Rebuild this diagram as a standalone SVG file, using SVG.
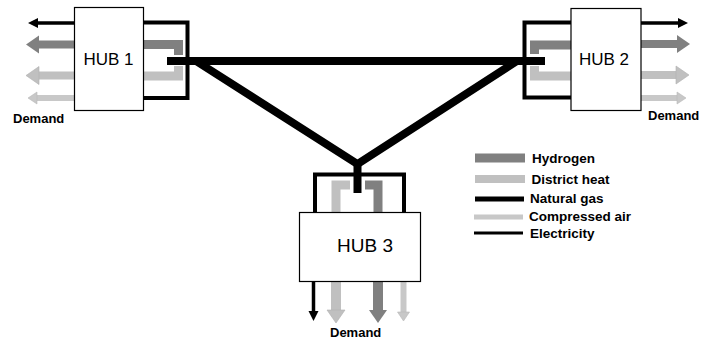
<svg xmlns="http://www.w3.org/2000/svg" width="701" height="347" viewBox="0 0 701 347">
<style>
  .box{fill:#fff;stroke:#000;stroke-width:1.2}
  .hub{font-family:"Liberation Sans",Arial,sans-serif;font-size:17px;fill:#000;text-anchor:middle}
  .lbl{font-family:"Liberation Sans",Arial,sans-serif;font-size:13.5px;font-weight:bold;fill:#000}
  .dem{font-family:"Liberation Sans",Arial,sans-serif;font-size:13px;font-weight:bold;fill:#000}
  .el{fill:none;stroke:#000;stroke-width:3.5}
  .frame{fill:none;stroke:#000;stroke-width:4;stroke-linejoin:miter}
  .h2{fill:none;stroke:#808080;stroke-width:9;stroke-linejoin:miter}
  .dh{fill:none;stroke:#c0c0c0;stroke-width:9;stroke-linejoin:miter}
  .ca{fill:none;stroke:#c8c8c8;stroke-width:6}
  .ng{fill:none;stroke:#000;stroke-width:8;stroke-linejoin:miter}
</style>
<defs>
  <marker id="m-el" markerUnits="userSpaceOnUse" orient="auto" overflow="visible" markerWidth="10" markerHeight="10" refX="0" refY="0"><path d="M0,-5 L10,0 L0,5 Z" fill="#000"/></marker>
  <marker id="m-h2" markerUnits="userSpaceOnUse" orient="auto" overflow="visible" markerWidth="14" markerHeight="18" refX="0" refY="0"><path d="M0,-9 L13,0 L0,9 Z" fill="#808080"/></marker>
  <marker id="m-dh" markerUnits="userSpaceOnUse" orient="auto" overflow="visible" markerWidth="14" markerHeight="18" refX="0" refY="0"><path d="M0,-9 L13,0 L0,9 Z" fill="#c0c0c0" stroke="#b0b0b0" stroke-width="0.6"/></marker>
  <marker id="m-ca" markerUnits="userSpaceOnUse" orient="auto" overflow="visible" markerWidth="10" markerHeight="12" refX="0" refY="0"><path d="M0,-6 L9,0 L0,6 Z" fill="#c8c8c8" stroke="#b8b8b8" stroke-width="0.6"/></marker>
</defs>
<rect width="701" height="347" fill="#fff"/>

<g id="connectors">
  <!-- natural gas network -->
  <path class="ng" d="M167,61 H545"/>
  <path class="ng" d="M196,61 L357.5,164 L517,61"/>
  <path class="ng" d="M357.5,160 V193"/>

  <!-- HUB 1 inputs -->
  <path class="frame" d="M144,22.5 H187.5 V98 H144"/>
  <path class="h2" d="M144,44.5 H178.5 V55"/>
  <path class="dh" d="M144,76 H178.5 V66"/>
  <!-- HUB 1 demand -->
  <path class="el" d="M74,23 H38" marker-end="url(#m-el)"/>
  <path class="h2" style="stroke-width:8" d="M74,44.5 H39" marker-end="url(#m-h2)"/>
  <path class="dh" style="stroke-width:8" d="M74,75.5 H39" marker-end="url(#m-dh)"/>
  <path class="ca" d="M74,98 H37" marker-end="url(#m-ca)"/>

  <!-- HUB 2 inputs -->
  <path class="frame" d="M571,22.5 H524.5 V97.5 H571"/>
  <path class="h2" d="M571,45 H534.5 V54"/>
  <path class="dh" d="M571,76 H534.5 V66"/>
  <!-- HUB 2 demand -->
  <path class="el" d="M641,23 H678" marker-end="url(#m-el)"/>
  <path class="h2" style="stroke-width:8" d="M641,44 H677" marker-end="url(#m-h2)"/>
  <path class="dh" style="stroke-width:8" d="M641,75 H676" marker-end="url(#m-dh)"/>
  <path class="ca" d="M641,98 H677" marker-end="url(#m-ca)"/>

  <!-- HUB 3 inputs -->
  <path class="frame" d="M315,212 V174.5 H404 V212"/>
  <path class="dh" d="M336,212 V185 H350"/>
  <path class="h2" d="M378,212 V185 H365"/>
  <!-- HUB 3 demand -->
  <path class="el" d="M313.5,281 V311" marker-end="url(#m-el)"/>
  <path class="dh" style="stroke-width:10" d="M336,281 V310" marker-end="url(#m-dh)"/>
  <path class="h2" style="stroke-width:10" d="M378,281 V310" marker-end="url(#m-h2)"/>
  <path class="ca" d="M403.5,281 V312" marker-end="url(#m-ca)"/>
</g>

<g id="hub1">
  <rect class="box" x="74.5" y="7.5" width="69" height="103"/>
  <text class="hub" x="108.5" y="65">HUB 1</text>
</g>
<g id="hub2">
  <rect class="box" x="571" y="8.5" width="70" height="102"/>
  <text class="hub" x="604" y="65">HUB 2</text>
</g>
<g id="hub3">
  <rect class="box" x="299.5" y="212.5" width="121" height="69"/>
  <text class="hub" x="365" y="252" style="font-size:19px">HUB 3</text>
</g>

<g id="demand-labels">
  <text class="dem" x="13" y="123">Demand</text>
  <text class="dem" x="648" y="120">Demand</text>
  <text class="dem" x="330" y="337">Demand</text>
</g>

<g id="legend">
  <path d="M475,158 H525" stroke="#808080" stroke-width="9"/>
  <text class="lbl" x="532" y="163">Hydrogen</text>
  <path d="M475,179 H525" stroke="#c0c0c0" stroke-width="8"/>
  <text class="lbl" x="531.5" y="184">District heat</text>
  <path d="M475,199 H524" stroke="#000" stroke-width="5"/>
  <text class="lbl" x="530" y="203">Natural gas</text>
  <path d="M474,217 H523" stroke="#c8c8c8" stroke-width="5"/>
  <text class="lbl" x="529" y="221">Compressed air</text>
  <path d="M474,233 H523" stroke="#000" stroke-width="3"/>
  <text class="lbl" x="530" y="238">Electricity</text>
</g>
</svg>
